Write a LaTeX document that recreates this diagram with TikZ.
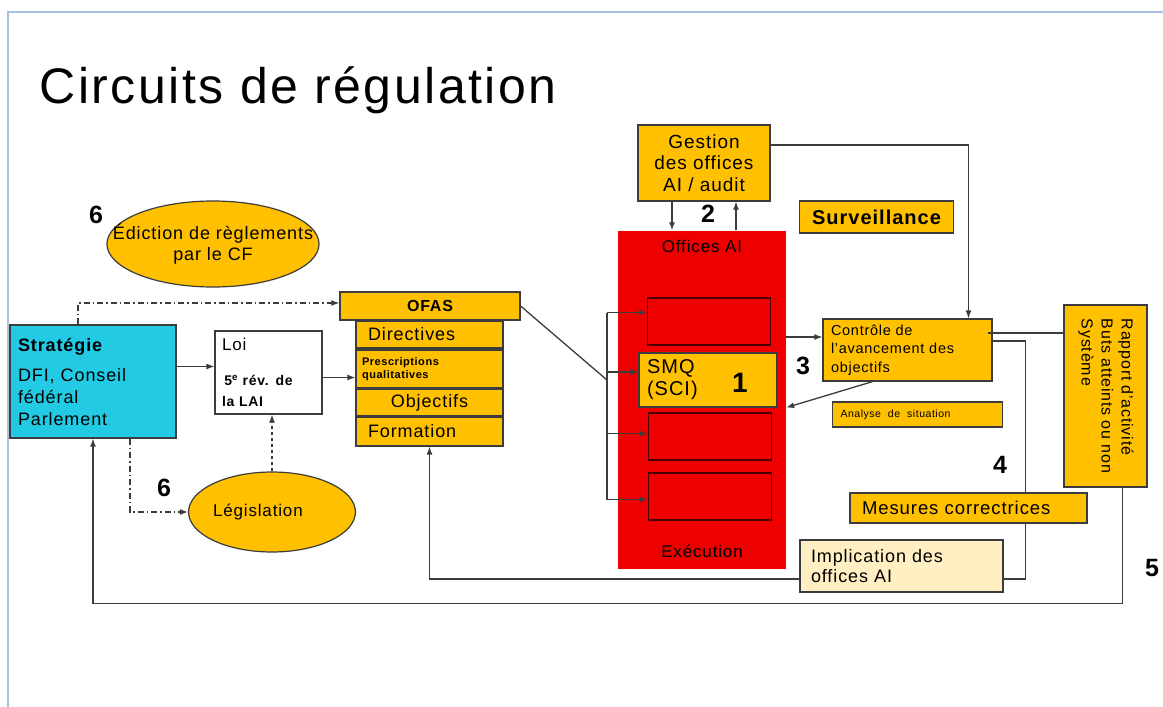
\documentclass[tikz,border=0pt]{standalone}
\usepackage{fontspec}
\usepackage{graphicx}
\setmainfont[LetterSpace=5]{Liberation Sans}
\usetikzlibrary{shapes.geometric,arrows.meta}

\definecolor{gold}{HTML}{FFC000}
\definecolor{alarm}{HTML}{EE0000}
\definecolor{sky}{HTML}{22CBE3}
\definecolor{cream}{HTML}{FFEFC2}
\definecolor{framecol}{HTML}{A9C1E3}
\definecolor{edge}{HTML}{3C3C3C}
\definecolor{darkred}{HTML}{4A0000}

\newcommand\fsz[2]{\fontsize{#1}{#2}\selectfont}

\begin{document}
\begin{tikzpicture}[x=1pt,y=-1pt,
    box/.style={draw=edge,fill=gold,line width=1.2pt,inner sep=0pt},
    cell/.style={draw=darkred,fill=alarm,line width=1.8pt,inner sep=0pt,minimum width=123,minimum height=47},
    oval/.style={ellipse,draw=edge,fill=gold,line width=1.2pt,inner sep=0pt},
    num/.style={font=\fsz{25}{25}\bfseries},
    link/.style={draw=edge,line width=1.3pt},
    arr/.style={link,-{Latex[length=8pt,width=6pt]}},
    dashdot/.style={dash pattern=on 6pt off 3pt on 1.5pt off 3pt}]
\useasboundingbox (0,0) rectangle (1163,707);
\draw[framecol,line width=2.5pt] (8,707) |- (1163,12);

% titre
\node[anchor=base west,font=\fsz{50}{56}] (titre) at (36,103) {Circuits de régulation};

% gauche
\node[oval,minimum width=206,minimum height=86,font=\fsz{18}{21},align=center] (edict) at (213,244)
  {\makebox[150pt]{Édiction de règlements}\\par le CF};
\node[num] (n6a) at (96,215) {6};
\node[box,fill=sky,minimum width=166,minimum height=113,text width=150,align=left,font=\fsz{18}{22}] (strat) at (93,381.5)
  {\textbf{Stratégie}\\[8pt]DFI, Conseil\\fédéral\\Parlement};
\node[box,fill=white,minimum width=107,minimum height=83,text width=93,align=left,font=\fsz{14}{21}] (loi) at (268.5,372.5)
  {{\fsz{17}{21}Loi}\\[14pt]\textbf{\,5\textsuperscript{e} rév. de}\\\textbf{la LAI}};
\node[oval,minimum width=166,minimum height=80,font=\fsz{17}{20}] (legis) at (272,512) {\makebox[118pt][l]{Législation}};
\node[num] (n6b) at (164,488) {6};

% OFAS
\node[box,minimum width=180,minimum height=28,font=\fsz{16}{18}\bfseries] (ofas) at (430,306) {OFAS};
\node[box,minimum width=147,minimum height=27,text width=123,align=left,font=\fsz{18}{20}] (direct) at (429.5,334.5) {Directives};
\node[box,minimum width=147,minimum height=38,text width=135,align=left,font=\fsz{11}{13}\bfseries] (presc) at (429.5,369) {Prescriptions\\qualitatives};
\node[box,minimum width=147,minimum height=27,font=\fsz{18}{20}] (object) at (429.5,402.5) {Objectifs};
\node[box,minimum width=147,minimum height=29,text width=123,align=left,font=\fsz{18}{20}] (format) at (429.5,431.5) {Formation};

% offices AI
\node[box,minimum width=132,minimum height=76,align=center,font=\fsz{19}{21.5}] (gestion) at (704,163) {Gestion\\des offices\\AI / audit};
\node[num] (n2) at (708,214) {2};
\node[box,minimum width=154,minimum height=32,font=\fsz{20}{22}\bfseries] (surv) at (876.5,217) {Surveillance};
\node[fill=alarm,minimum width=168,minimum height=338,inner sep=0pt] (offices) at (702,399.5) {};
\node[font=\fsz{17}{20}] (officeslbl) at (702,246) {Offices AI};
\node[font=\fsz{17}{20}] (execlbl) at (702,551) {Exécution};
\node[cell] (c1) at (709,321.5) {};
\node[cell] (c3) at (710,436.5) {};
\node[cell] (c4) at (710,496.5) {};
\node[box,minimum width=138,minimum height=54,text width=122,align=left,font=\fsz{20}{22}] (smq) at (708,380) {SMQ\\(SCI)};
\node[num,font=\fsz{28}{28}\bfseries] (n1) at (740,383) {1};

% droite
\node[box,minimum width=169,minimum height=62,text width=153,align=left,font=\fsz{14.5}{18.5}] (ctrl) at (907.5,350) {Contrôle de\\l'avancement des\\objectifs};
\node[num] (n3) at (803,366) {3};
\node[box,minimum width=170,minimum height=25,text width=154,align=left,font=\fsz{10.5}{12}] (analyse) at (917.5,414.5) {Analyse~ de~ situation};
\node[box,minimum width=83,minimum height=182,font=\fsz{16}{20}] (rapport) at (1105.5,396)
  {\rotatebox{-90}{\begin{tabular}{@{}l@{}}Rapport d'activité\\Buts atteints ou non\\Système\end{tabular}}};
\node[num] (n4) at (1000,465) {4};
\node[num] (n5) at (1152,568) {5};
\node[box,fill=cream,minimum width=203,minimum height=52,text width=181,align=left,font=\fsz{18}{20}] (impl) at (901.5,566) {Implication des\\offices AI};

% liaisons
\draw[link] ([yshift=9pt]ctrl.east) -- ++(33,0) |- ([yshift=-13pt]impl.east);
\node[box,minimum width=237,minimum height=30,text width=213,align=left,font=\fsz{18.5}{20}] (mesures) at (968.5,508) {Mesures correctrices};

\draw[arr] ([xshift=-32pt]gestion.south) -- ([xshift=-32pt]gestion.south |- offices.north);
\draw[arr] ([xshift=32pt]gestion.south |- offices.north) -- ([xshift=32pt]gestion.south);
\draw[arr] ([yshift=18pt]gestion.east) -| ([xshift=61pt]ctrl.north);
\coordinate (toctrl) at ([yshift=13pt]ctrl.west);
\draw[arr] (offices.east |- toctrl) -- (toctrl);
\draw[arr] ([xshift=-35pt]ctrl.south) -- (offices.east |- smq.south);
\coordinate (torap) at ([xshift=-5pt,yshift=17pt]ctrl.east);
\draw[link] (torap) -- (rapport.west |- torap);

\coordinate (brx) at (607,0);
\draw[link] (ofas.east) -- (brx |- smq.west);
\draw[link] ([yshift=9pt]brx |- c1.west) -- ([yshift=-3pt]brx |- c4.west);
\foreach \b/\d in {c1/9,smq/8,c3/3,c4/-3}
  \draw[arr] ([yshift=\d pt]brx |- \b.west) -- ([yshift=\d pt]\b.west);

\coordinate (tolaw) at ([yshift=15pt]strat.east);
\draw[arr] (tolaw) -- (loi.west |- tolaw);
\coordinate (topresc) at ([yshift=-5pt]loi.east);
\draw[arr] (topresc) -- (presc.west |- topresc);
\draw[arr,dashdot] ([xshift=-15pt]strat.north) |- ([yshift=3pt]ofas.west);
\draw[arr,dashdot] ([xshift=37pt]strat.south) |- (legis.west);
\draw[arr,dashed] (legis.north) -- (legis.north |- loi.south);

\draw[arr] ([yshift=-13pt]impl.west) -| (format.south);
\draw[arr] ([xshift=17pt]rapport.south) -- ++(0,116) -| (strat.south);
\end{tikzpicture}
\end{document}
